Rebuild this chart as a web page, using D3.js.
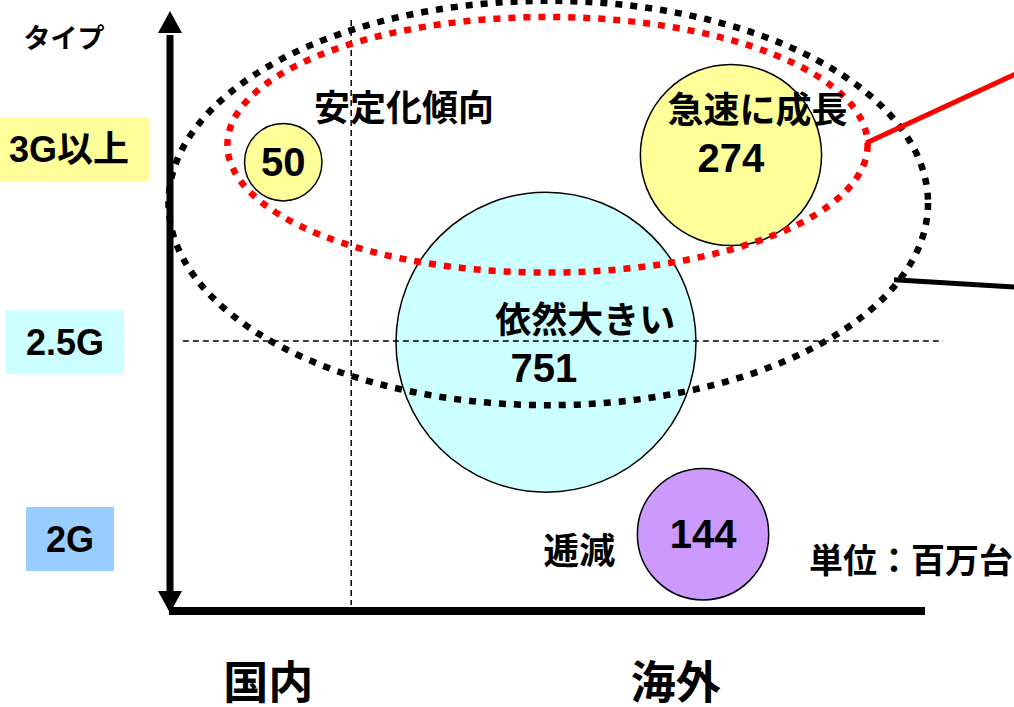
<!DOCTYPE html>
<html>
<head>
<meta charset="utf-8">
<script src="https://cdn.jsdelivr.net/npm/d3@7"></script>
<style>
  body { margin: 0; background: #fff; }
  text { font-family: "Liberation Sans", Arial, "Noto Sans CJK JP", sans-serif; font-weight: bold; }
</style>
</head>
<body>
<div id="chart"></div>
<script>
// categories
var types = ["2G", "2.5G", "3G以上"];
var typeY = [12, 44.8, 77];
var typeColors = ["#99ccff", "#ccffff", "#ffff99"];
var markets = ["国内", "海外"];
var marketX = [13, 67];

// bubbles (unit: 百万台)
var bubbleValues = [50, 274, 751, 144];
var bubbleX = [15, 74.3, 49.8, 70.6];
var bubbleY = [74.8, 76, 44.8, 12.8];
var bubbleColors = ["#ffff99", "#ffff99", "#ccffff", "#cc99ff"];

// comments next to bubbles
var notes = ["安定化傾向", "急速に成長", "依然大きい", "逓減"];
var noteX = [31, 77.8, 55, 54.2];
var noteY = [83.7, 83.5, 48.5, 10];

var width = 1014, height = 707;

var svg = d3.select("#chart")
    .append("svg")
    .attr("width", width)
    .attr("height", height);

var x = d3.scaleLinear().domain([0, 100]).range([170, 925]);
var y = d3.scaleLinear().domain([0, 100]).range([611, 11]);
var r = d3.scaleSqrt().domain([0, 751]).range([0, 150]);

// type labels with coloured boxes
var typeLabelX = [70, 65, 69];
types.forEach(function(t, i) {
    var g = svg.append("g");
    var rect = g.append("rect").attr("fill", typeColors[i]);
    var txt = g.append("text")
        .attr("x", typeLabelX[i])
        .attr("y", y(typeY[i]))
        .attr("text-anchor", "middle")
        .attr("dominant-baseline", "central")
        .style("font-size", "36px")
        .text(t);
    var b = txt.node().getBBox();
    rect.attr("x", b.x - 20).attr("y", y(typeY[i]) - 32)
        .attr("width", b.width + 40).attr("height", 64);
});

svg.append("text")
    .attr("x", 64).attr("y", 39)
    .attr("text-anchor", "middle")
    .attr("dominant-baseline", "central")
    .style("font-size", "27px")
    .text("タイプ");

// bubbles
var bubbles = bubbleValues.map(function(v, i) {
    return {value: v, x: bubbleX[i], y: bubbleY[i], color: bubbleColors[i]};
});
svg.selectAll("circle.bubble")
    .data(bubbles)
    .enter()
    .append("circle")
    .attr("class", "bubble")
    .attr("cx", function(d) { return x(d.x); })
    .attr("cy", function(d) { return y(d.y); })
    .attr("r", function(d) { return r(d.value); })
    .attr("fill", function(d) { return d.color; })
    .attr("stroke", "#000")
    .attr("stroke-width", 1.5);

// dashed cross lines
svg.append("line")
    .attr("x1", x(24)).attr("x2", x(24))
    .attr("y1", y(98.5)).attr("y2", y(1))
    .attr("stroke", "#000").attr("stroke-width", 1.5)
    .attr("stroke-dasharray", "6 4");
svg.append("line")
    .attr("x1", x(1.7)).attr("x2", x(102.4))
    .attr("y1", y(45)).attr("y2", y(45))
    .attr("stroke", "#000").attr("stroke-width", 1.5)
    .attr("stroke-dasharray", "6 4");

// dotted ellipses
function ellipse(cx, cy, rx, ry, color) {
    svg.append("ellipse")
        .attr("cx", x(cx)).attr("cy", y(cy))
        .attr("rx", x(cx + rx) - x(cx))
        .attr("ry", y(cy) - y(cy + ry))
        .attr("fill", "none")
        .attr("stroke", color)
        .attr("stroke-width", 6.5)
        .attr("stroke-dasharray", "7 8");
}
ellipse(50.1, 68, 50.3, 33.7, "#000");
ellipse(50, 77.7, 42.4, 21.3, "#ff0000");

// callout lines leaving the frame
svg.append("line")
    .attr("x1", x(92.2)).attr("y1", y(78))
    .attr("x2", x(112)).attr("y2", y(89.5))
    .attr("stroke", "#ff0000").attr("stroke-width", 5);
svg.append("line")
    .attr("x1", x(95.9)).attr("y1", y(55.2))
    .attr("x2", x(112)).attr("y2", y(54))
    .attr("stroke", "#000").attr("stroke-width", 5);

// axes
svg.append("line")
    .attr("x1", x(0)).attr("x2", x(0))
    .attr("y1", y(96)).attr("y2", y(3))
    .attr("stroke", "#000").attr("stroke-width", 7);
svg.append("line")
    .attr("x1", x(0) - 1).attr("x2", x(100))
    .attr("y1", y(0)).attr("y2", y(0))
    .attr("stroke", "#000").attr("stroke-width", 8);
svg.append("path")
    .attr("d", "M" + x(0) + "," + y(100) + "l12,22h-24z")
    .attr("fill", "#000");
svg.append("path")
    .attr("d", "M" + x(0) + "," + (y(0) + 2) + "l12,-22h-24z")
    .attr("fill", "#000");

// market labels
markets.forEach(function(m, i) {
    svg.append("text")
        .attr("x", x(marketX[i])).attr("y", 683)
        .attr("text-anchor", "middle")
        .attr("dominant-baseline", "central")
        .style("font-size", "45px")
        .text(m);
});

// notes
notes.forEach(function(n, i) {
    svg.append("text")
        .attr("x", x(noteX[i])).attr("y", y(noteY[i]))
        .attr("text-anchor", "middle")
        .attr("dominant-baseline", "central")
        .style("font-size", "36px")
        .text(n);
});

// bubble values
var valueOffset = [0, 0, 5, 0];
svg.selectAll("text.value")
    .data(bubbles)
    .enter()
    .append("text")
    .attr("class", "value")
    .attr("x", function(d) { return x(d.x); })
    .attr("y", function(d, i) { return y(d.y) - valueOffset[i]; })
    .attr("dx", function(d, i) { return i == 2 ? -2 : 0; })
    .attr("dy", function(d, i) { return i == 2 ? 31 : (i == 1 ? 3 : 0); })
    .attr("text-anchor", "middle")
    .attr("dominant-baseline", "central")
    .style("font-size", "40px")
    .text(function(d) { return d.value; });

svg.append("text")
    .attr("x", 809).attr("y", y(8.3))
    .attr("dominant-baseline", "central")
    .style("font-size", "34px")
    .text("単位：百万台");
</script>
</body>
</html>
